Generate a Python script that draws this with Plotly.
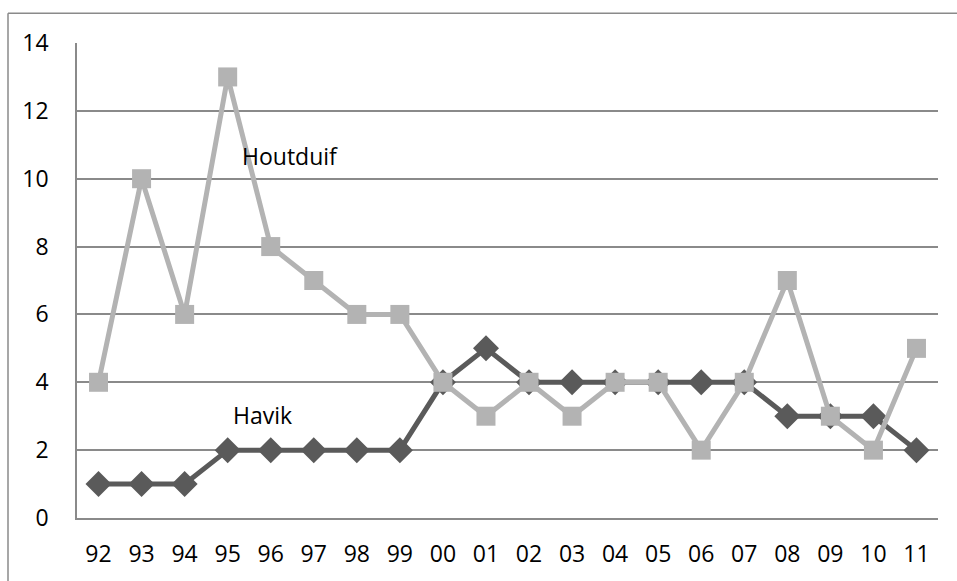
import plotly.graph_objects as go

years = ["92", "93", "94", "95", "96", "97", "98", "99", "00", "01",
         "02", "03", "04", "05", "06", "07", "08", "09", "10", "11"]
havik = [1, 1, 1, 2, 2, 2, 2, 2, 4, 5, 4, 4, 4, 4, 4, 4, 3, 3, 3, 2]
houtduif = [4, 10, 6, 13, 8, 7, 6, 6, 4, 3, 4, 3, 4, 4, 2, 4, 7, 3, 2, 5]
y_ticks = [0, 2, 4, 6, 8, 10, 12, 14]

FONT = "Open Sans"
FS = 23
GRID = "#8a8a8a"

fig = go.Figure()
fig.add_trace(go.Scatter(
    x=years, y=havik, mode="lines+markers", name="Havik",
    line=dict(color="#5a5a5a", width=5),
    marker=dict(symbol="diamond", size=20, color="#5a5a5a"),
))
fig.add_trace(go.Scatter(
    x=years, y=houtduif, mode="lines+markers", name="Houtduif",
    line=dict(color="#b3b3b3", width=5),
    marker=dict(symbol="square", size=19, color="#b3b3b3"),
))

fig.add_annotation(x=4.45, y=10.67, text="Houtduif", showarrow=False,
                   font=dict(family=FONT, size=FS, color="#000000"))
fig.add_annotation(x=3.8, y=3.04, text="Havik", showarrow=False,
                   font=dict(family=FONT, size=FS, color="#000000"))

# plot area in page pixels: 77..938 x 43..522 (body margin removed)
W, H = 957, 581
L, R, T, B = 77, 19, 43, 59
PW, PH = W - L - R, H - T - B

# outer chart border (left and top), at page pixel (8, 13)
bx = (8 - L) / PW
by = (PH + T - 13) / PH
fig.add_shape(type="line", xref="paper", yref="paper",
              x0=bx, x1=bx, y0=by, y1=-0.3,
              line=dict(color="#8a8a8a", width=1.5))
fig.add_shape(type="line", xref="paper", yref="paper",
              x0=bx, x1=1.2, y0=by, y1=by,
              line=dict(color="#8a8a8a", width=1.5))

fig.update_layout(
    width=W, height=H,
    margin=dict(l=L, r=R, t=T, b=B),
    paper_bgcolor="white", plot_bgcolor="white",
    showlegend=False,
    font=dict(family=FONT, size=FS, color="#000000"),
    xaxis=dict(
        type="category", range=[-0.5, 19.5],
        showgrid=False, showline=True, linecolor=GRID, linewidth=1.5,
        ticks="", ticklabelstandoff=15, tickfont=dict(family=FONT, size=FS),
    ),
    yaxis=dict(
        range=[0, 14], tickvals=y_ticks,
        showgrid=True, gridcolor=GRID, gridwidth=1.5,
        showline=True, linecolor=GRID, linewidth=1.5,
        zeroline=False, ticks="", ticklabelstandoff=22,
        tickfont=dict(family=FONT, size=FS),
    ),
)

fig.write_html("out.html", config={"displayModeBar": False},
               post_script="document.body.style.margin='0';document.body.style.overflow='hidden';")
